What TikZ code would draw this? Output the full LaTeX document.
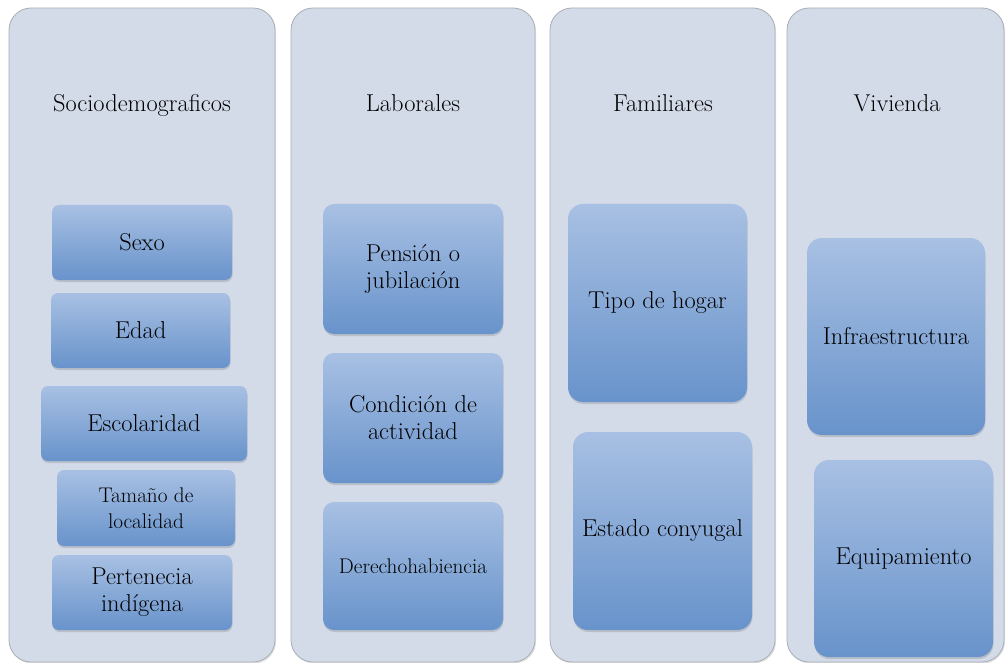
\documentclass[tikz,border=0pt]{standalone}
\usepackage{xcolor}
\usetikzlibrary{shadows}
\definecolor{fondo1}{HTML}{D3DBE9}
\definecolor{borde1}{HTML}{A9ADB5}
\definecolor{azul1}{HTML}{A8C0E3}
\definecolor{azul2}{HTML}{6893CB}
\newcommand{\grande}{\fontsize{24.4}{27}\selectfont}
\newcommand{\chico}{\fontsize{21.2}{25.5}\selectfont}

\begin{document}
\begin{tikzpicture}[x=1pt,y=-1pt,
  columna/.style={rectangle, rounded corners=22pt, fill=fondo1, draw=borde1, line width=0.8pt, inner sep=0pt,
    drop shadow={opacity=0.25, shadow xshift=1pt, shadow yshift=-1.5pt}},
  caja/.style={rectangle, inner sep=0pt, top color=azul1, bottom color=azul2, align=center, font=\grande,
    drop shadow={opacity=0.3, shadow xshift=0.5pt, shadow yshift=-2pt}},
  titulo/.style={anchor=base, font=\grande}]

\useasboundingbox (0,0) rectangle (1006,663);

\node[columna, minimum width=266pt, minimum height=654pt] (col1) at (142,335) {};
\node[columna, minimum width=244pt, minimum height=654pt] (col2) at (413,335) {};
\node[columna, minimum width=225pt, minimum height=654pt] (col3) at (662.5,335) {};
\node[columna, minimum width=217pt, minimum height=654pt] (col4) at (895.5,335) {};

\node[titulo] (socio) at (142,112) {Sociodemograficos};
\node[titulo] (labor) at (413,112) {Laborales};
\node[titulo] (famil) at (663,112) {Familiares};
\node[titulo] (vivie) at (897,112) {Vivienda};


\node[caja, rounded corners=7pt, minimum width=180pt, minimum height=75pt] (sexo) at (142,242.5) {Sexo};
\node[caja, rounded corners=7pt, minimum width=179pt, minimum height=75pt] (edad) at (140.5,330.5) {Edad};
\node[caja, rounded corners=7pt, minimum width=206pt, minimum height=75pt] (escol) at (144,423.5) {Escolaridad};
\node[caja, rounded corners=7pt, minimum width=178pt, minimum height=76pt, font=\chico] (tamano) at (146,508) {Tamaño de\\localidad};
\node[caja, rounded corners=7pt, minimum width=180pt, minimum height=75pt] (perten) at (142,592.5) {Pertenecia\\indígena};

\node[caja, rounded corners=11pt, minimum width=180pt, minimum height=130pt] (pension) at (413,269) {Pensión o\\jubilación};
\node[caja, rounded corners=11pt, minimum width=180pt, minimum height=130pt] (condic) at (413,418) {Condición de\\actividad};
\node[caja, rounded corners=11pt, minimum width=180pt, minimum height=128pt, font=\chico] (derecho) at (413,566) {Derechohabiencia};

\node[caja, rounded corners=15pt, minimum width=179pt, minimum height=198pt] (tipo) at (657.5,303) {Tipo de hogar};
\node[caja, rounded corners=15pt, minimum width=179pt, minimum height=198pt] (estado) at (662.5,531) {Estado conyugal};

\node[caja, rounded corners=15pt, minimum width=178pt, minimum height=197pt] (infra) at (896,336.5) {Infraestructura};
\node[caja, rounded corners=15pt, minimum width=179pt, minimum height=197pt] (equipa) at (903.5,558.5) {Equipamiento};

\end{tikzpicture}
\end{document}
